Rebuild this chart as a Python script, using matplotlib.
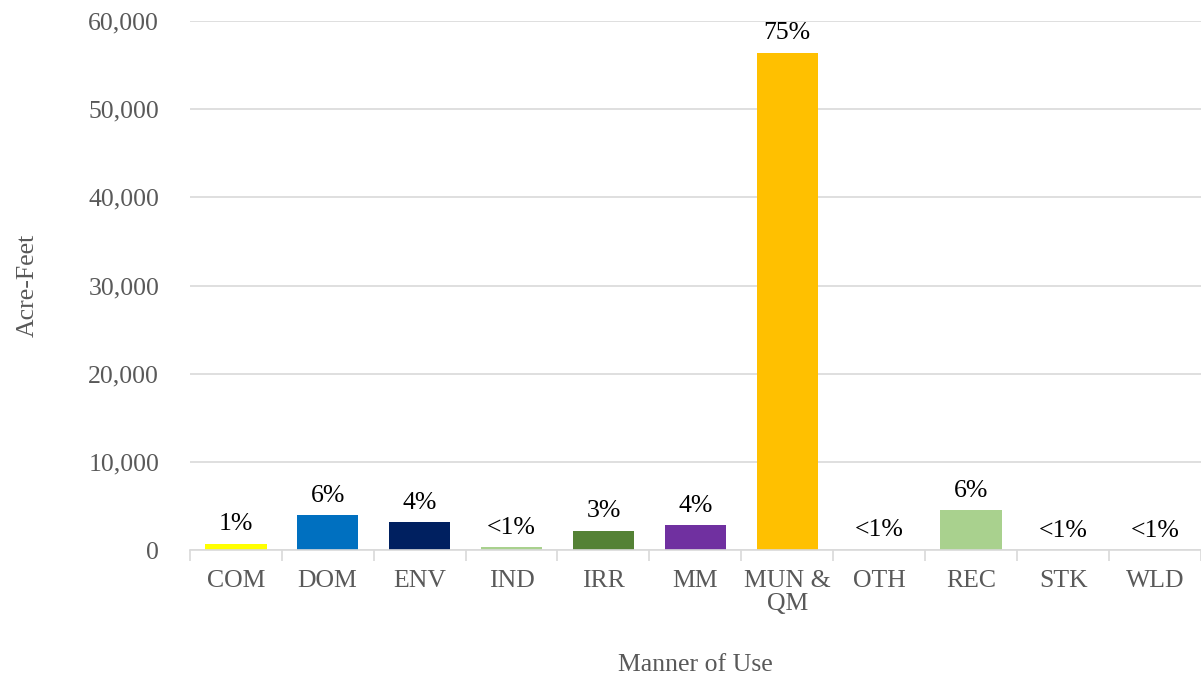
import matplotlib
matplotlib.use("Agg")
import matplotlib.pyplot as plt
from matplotlib.ticker import FuncFormatter, FixedLocator

categories = ["COM", "DOM", "ENV", "IND", "IRR", "MM", "MUN &\nQM", "OTH", "REC", "STK", "WLD"]
values = [750, 4000, 3200, 300, 2200, 2800, 56400, 60, 4550, 30, 30]
pct_labels = ["1%", "6%", "4%", "<1%", "3%", "4%", "75%", "<1%", "6%", "<1%", "<1%"]
colors = ["#FFFF00", "#0070C0", "#002060", "#A9D18E", "#548235", "#7030A0",
          "#FFC000", "#A9D18E", "#A9D18E", "#A9D18E", "#A9D18E"]

plt.rcParams['font.family'] = ['Liberation Serif', 'DejaVu Serif']

fig = plt.figure(figsize=(12.01, 6.75), dpi=100)
ax = fig.add_axes([0.158, 0.185, 0.842, 0.784])

x = list(range(len(categories)))
bars = ax.bar(x, values, width=0.67, color=colors, zorder=3)

for xi, v, lab in zip(x, values, pct_labels):
    ax.annotate(lab, (xi, v), xytext=(0, 6), textcoords="offset points",
                ha="center", va="bottom", fontsize=18.5, color="black")

ax.set_xlim(-0.5, len(categories) - 0.5)
ax.set_ylim(0, 60000)
ax.set_yticks(range(0, 60001, 10000))
ax.yaxis.set_major_formatter(FuncFormatter(lambda v, p: f"{int(v):,}"))
ax.set_xticks(x)
ax.set_xticklabels(categories, linespacing=1.1)
ax.xaxis.set_minor_locator(FixedLocator([i - 0.5 for i in range(len(categories) + 1)]))
ax.tick_params(axis="x", which="major", length=0, pad=14, labelsize=18.5, labelcolor="#595959")
ax.tick_params(axis="x", which="minor", length=8, width=1.2, color="#D9D9D9")
ax.tick_params(axis="y", length=0, pad=22, labelsize=18.5, labelcolor="#595959")

ax.grid(axis="y", color="#D9D9D9", linewidth=1.2, zorder=0)
for s in ["left", "right", "top"]:
    ax.spines[s].set_visible(False)
ax.spines["bottom"].set_color("#D9D9D9")
ax.spines["bottom"].set_linewidth(1.2)
ax.spines["bottom"].set_zorder(4)

ax.set_ylabel("Acre-Feet", fontsize=18.5, color="#595959", labelpad=36)
ax.set_xlabel("Manner of Use", fontsize=18.5, color="#595959", labelpad=28)

fig.savefig("out.png", dpi=100)
